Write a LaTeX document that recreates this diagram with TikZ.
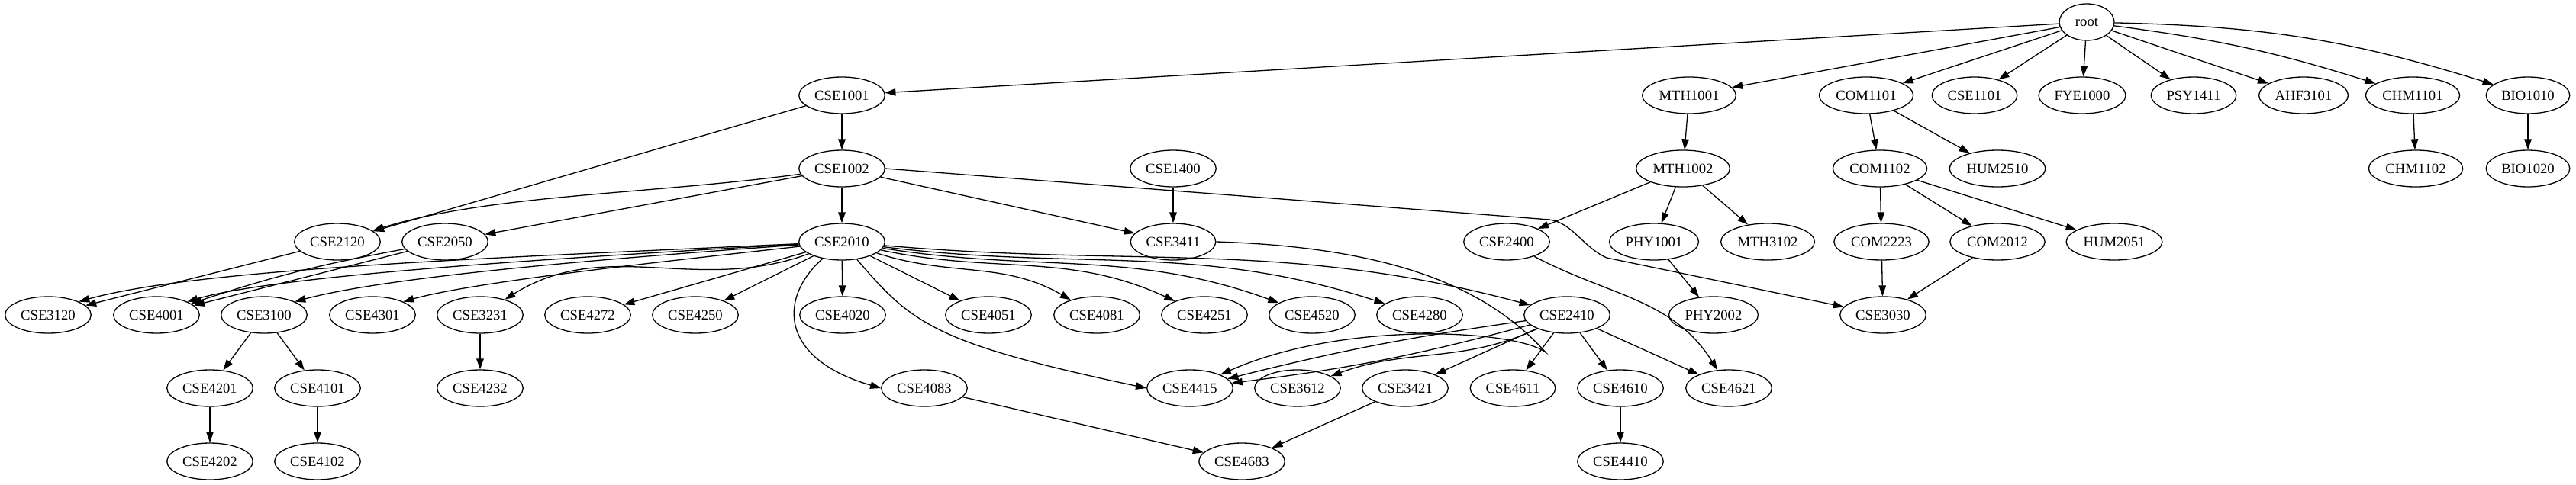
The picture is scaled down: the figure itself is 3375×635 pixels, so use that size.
\documentclass[tikz,border=0pt]{standalone}
\usepackage{fontspec}
\setmainfont{Liberation Serif}
\usepackage{tikz}
\usetikzlibrary{arrows.meta, shapes.geometric}
\tikzset{
  course/.style={
    draw, ellipse, line width=1.3pt,
    minimum width=72pt, minimum height=48pt,
    inner xsep=4pt, inner ysep=2pt,
    font=\fontsize{18.67}{22}\selectfont
  },
  prereq/.style={-{Triangle[length=14pt,width=9.5pt]}, line width=1.3pt}
}

\begin{document}
\begin{tikzpicture}[x=1pt, y=-1pt]
  \useasboundingbox (0,0) rectangle (3375,635);

  \node[course] (root) at (2734,29) {root};

  \node[course] (cse1001) at (1103,125) {CSE1001};
  \node[course] (mth1001) at (2213,125) {MTH1001};
  \node[course] (com1101) at (2445,125) {COM1101};
  \node[course] (cse1101) at (2587,125) {CSE1101};
  \node[course] (fye1000) at (2728,125) {FYE1000};
  \node[course] (psy1411) at (2874,125) {PSY1411};
  \node[course] (ahf3101) at (3018,125) {AHF3101};
  \node[course] (chm1101) at (3161,125) {CHM1101};
  \node[course] (bio1010) at (3312,125) {BIO1010};

  \node[course] (cse1002) at (1103,221) {CSE1002};
  \node[course] (cse1400) at (1537,221) {CSE1400};
  \node[course] (mth1002) at (2205,221) {MTH1002};
  \node[course] (com1102) at (2463,221) {COM1102};
  \node[course] (hum2510) at (2617,221) {HUM2510};
  \node[course] (chm1102) at (3165,221) {CHM1102};
  \node[course] (bio1020) at (3312,221) {BIO1020};

  \node[course] (cse2120) at (442,317) {CSE2120};
  \node[course] (cse2050) at (583,317) {CSE2050};
  \node[course] (cse2010) at (1103,317) {CSE2010};
  \node[course] (cse3411) at (1537,317) {CSE3411};
  \node[course] (cse2400) at (1974,317) {CSE2400};
  \node[course] (phy1001) at (2167,317) {PHY1001};
  \node[course] (mth3102) at (2316,317) {MTH3102};
  \node[course] (com2223) at (2465,317) {COM2223};
  \node[course] (com2012) at (2617,317) {COM2012};
  \node[course] (hum2051) at (2770,317) {HUM2051};

  \node[course] (cse3120) at (63,413) {CSE3120};
  \node[course] (cse4001) at (205,413) {CSE4001};
  \node[course] (cse3100) at (346,413) {CSE3100};
  \node[course] (cse4301) at (488,413) {CSE4301};
  \node[course] (cse3231) at (629,413) {CSE3231};
  \node[course] (cse4272) at (770,413) {CSE4272};
  \node[course] (cse4250) at (911,413) {CSE4250};
  \node[course] (cse4020) at (1104,413) {CSE4020};
  \node[course] (cse4051) at (1295,413) {CSE4051};
  \node[course] (cse4081) at (1437,413) {CSE4081};
  \node[course] (cse4251) at (1578,413) {CSE4251};
  \node[course] (cse4520) at (1719,413) {CSE4520};
  \node[course] (cse4280) at (1860,413) {CSE4280};
  \node[course] (cse2410) at (2053,413) {CSE2410};
  \node[course] (phy2002) at (2245,413) {PHY2002};
  \node[course] (cse3030) at (2467,413) {CSE3030};

  \node[course] (cse4201) at (275,509) {CSE4201};
  \node[course] (cse4101) at (416,509) {CSE4101};
  \node[course] (cse4232) at (629,509) {CSE4232};
  \node[course] (cse4083) at (1211,509) {CSE4083};
  \node[course] (cse4415) at (1559,509) {CSE4415};
  \node[course] (cse3612) at (1700,509) {CSE3612};
  \node[course] (cse3421) at (1841,509) {CSE3421};
  \node[course] (cse4611) at (1982,509) {CSE4611};
  \node[course] (cse4610) at (2123,509) {CSE4610};
  \node[course] (cse4621) at (2265,509) {CSE4621};

  \node[course] (cse4202) at (275,605) {CSE4202};
  \node[course] (cse4102) at (416,605) {CSE4102};
  \node[course] (cse4683) at (1627,605) {CSE4683};
  \node[course] (cse4410) at (2123,605) {CSE4410};

  % root
  \draw[prereq] (root) -- (cse1001);
  \draw[prereq] (root) -- (mth1001);
  \draw[prereq] (root) -- (com1101);
  \draw[prereq] (root) -- (cse1101);
  \draw[prereq] (root) -- (fye1000);
  \draw[prereq] (root) -- (psy1411);
  \draw[prereq] (root) -- (ahf3101);
  \draw[prereq] (root) to[bend left=5] (chm1101);
  \draw[prereq] (root) to[bend left=8] (bio1010);

  % first year
  \draw[prereq] (cse1001) -- (cse1002);
  \draw[prereq] (cse1001) -- (cse2120);
  \draw[prereq] (cse1002) .. controls (850,255) and (640,255) .. (cse2120);
  \draw[prereq] (cse1002) -- (cse2050);
  \draw[prereq] (cse1002) -- (cse2010);
  \draw[prereq] (cse1002) -- (cse3411);
  \draw[prereq] (cse1002.east) -- (2030,288) .. controls (2060,292) and (2075,325) .. (2105,338) -- (cse3030);
  \draw[prereq] (cse1400) -- (cse3411);
  \draw[prereq] (mth1001) -- (mth1002);
  \draw[prereq] (mth1002) -- (cse2400);
  \draw[prereq] (mth1002) -- (phy1001);
  \draw[prereq] (mth1002) -- (mth3102);
  \draw[prereq] (com1101) -- (com1102);
  \draw[prereq] (com1101) -- (hum2510);
  \draw[prereq] (com1102) -- (com2223);
  \draw[prereq] (com1102) -- (com2012);
  \draw[prereq] (com1102) -- (hum2051);
  \draw[prereq] (chm1101) -- (chm1102);
  \draw[prereq] (bio1010) -- (bio1020);

  % second year
  \draw[prereq] (cse2120) -- (cse3120);
  \draw[prereq] (cse2050) -- (cse4001);
  \draw[prereq] (cse2050) to[bend right=4] (cse4001);
  \draw[prereq] (cse2010) .. controls (650,338) and (260,352) .. (cse3120.north east);
  \draw[prereq] (cse2010) .. controls (700,340) and (360,362) .. (cse4001.north east);
  \draw[prereq] (cse2010) .. controls (750,342) and (500,365) .. (cse3100.north east);
  \draw[prereq] (cse2010) .. controls (850,345) and (620,370) .. (cse4301.north east);
  \draw[prereq] (cse2010) to[out=200, in=32] (cse3231);
  \draw[prereq] (cse2010) -- (cse4272);
  \draw[prereq] (cse2010) -- (cse4250);
  \draw[prereq] (cse2010) -- (cse4020);
  \draw[prereq] (cse2010) .. controls (1020,390) and (1020,470) .. (cse4083.west);
  \draw[prereq] (cse2010) .. controls (1195,425) and (1225,450) .. (cse4415.west);
  \draw[prereq] (cse2010) -- (cse4051);
  \draw[prereq] (cse2010) to[out=-18, in=150] (cse4081);
  \draw[prereq] (cse2010) to[out=-12, in=155] (cse4251);
  \draw[prereq] (cse2010) to[out=-9, in=160] (cse4520);
  \draw[prereq] (cse2010) to[out=-7, in=162] (cse4280);
  \draw[prereq] (cse2010) to[out=-5, in=165] (cse2410);
  \draw[prereq] (cse3411.east) .. controls (1850,325) and (1960,390) .. (2025,462) .. controls (1985,432) and (1760,420) .. (cse4415);
  \draw[prereq] (cse2400) to[out=-28, in=122] (cse4621);
  \draw[prereq] (phy1001) -- (phy2002);
  \draw[prereq] (com2223) -- (cse3030);
  \draw[prereq] (com2012) -- (cse3030);

  % upper level
  \draw[prereq] (cse3100) -- (cse4201);
  \draw[prereq] (cse3100) -- (cse4101);
  \draw[prereq] (cse3231) -- (cse4232);
  \draw[prereq] (cse2410) to[bend left=4] (cse4415);
  \draw[prereq] (cse2410) to[bend right=3] (cse4415);
  \draw[prereq] (cse2410) to[out=205, in=20] (cse3612);
  \draw[prereq] (cse2410) -- (cse3421);
  \draw[prereq] (cse2410) -- (cse4611);
  \draw[prereq] (cse2410) -- (cse4610);
  \draw[prereq] (cse2410) -- (cse4621);
  \draw[prereq] (cse4201) -- (cse4202);
  \draw[prereq] (cse4101) -- (cse4102);
  \draw[prereq] (cse4083) -- (cse4683);
  \draw[prereq] (cse3421) -- (cse4683);
  \draw[prereq] (cse4610) -- (cse4410);
\end{tikzpicture}
\end{document}
